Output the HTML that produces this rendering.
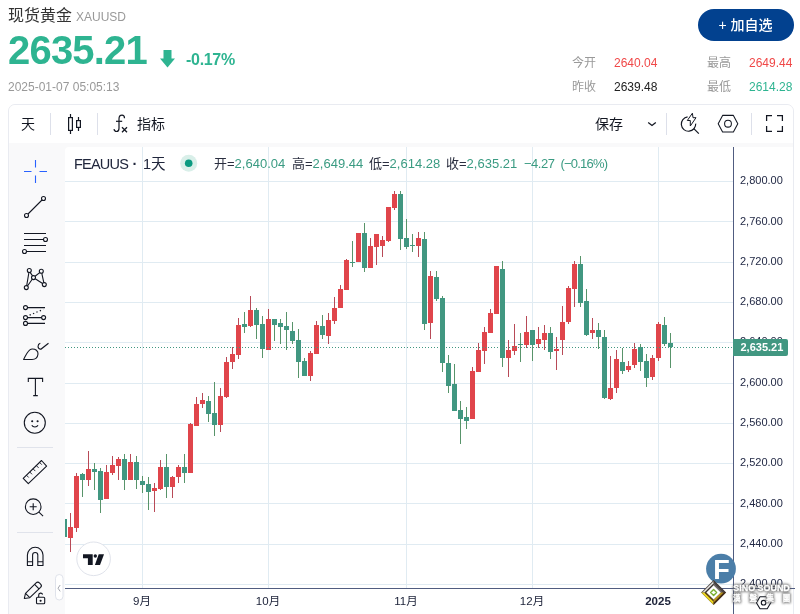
<!DOCTYPE html>
<html lang="zh-CN">
<head>
<meta charset="utf-8">
<title>现货黄金 XAUUSD</title>
<style>
html,body{margin:0;padding:0;}
body{width:800px;height:614px;overflow:hidden;background:#fff;position:relative;
  font-family:"Liberation Sans","Noto Sans CJK SC",sans-serif;color:#131722;}
.abs{position:absolute;white-space:nowrap;}
/* header */
#title{left:8px;top:4px;font-size:16px;line-height:24px;color:#333;}
#code{left:76px;top:9px;font-size:12px;line-height:16px;color:#999;}
#price{left:8px;top:27px;font-size:40px;line-height:46px;font-weight:bold;color:#2eb491;letter-spacing:-0.8px;}
#chg{left:186px;top:51px;font-size:16px;line-height:18px;font-weight:bold;color:#2eb491;letter-spacing:-0.3px;}
#date{left:8px;top:79px;font-size:12px;line-height:16px;color:#999;}
#addbtn{left:697.5px;top:9px;width:96px;font-weight:500;height:32px;border-radius:16px;background:#02418f;color:#fff;
  font-size:14px;line-height:32px;text-align:center;}
.st{font-size:12px;line-height:16px;}
.lab{color:#999;}
.red{color:#f04848;}
.grn{color:#2eb491;}
.blk{color:#222;}
/* widget */
#widget{left:8px;top:104px;width:784px;height:520px;border:1px solid #e9ebf1;border-radius:7px;background:#f9f9fa;}
#topbar{left:9px;top:105px;width:784px;height:38px;background:#fff;border-radius:6px 6px 0 0;}
#pane{left:65px;top:147px;width:728px;height:480px;background:#fff;border-radius:4px 0 0 0;}
.tb{font-size:14px;line-height:20px;color:#131722;}
.sep{width:1px;background:#dde0ea;}
.hsep{height:1px;background:#e0e3eb;left:17px;width:36px;}
.lt{top:153.5px;font-size:14.5px;line-height:20px;color:#20263c;}
.lg{top:155px;font-size:13px;line-height:18px;color:#2a2e3f;}
.lg b{font-weight:normal;color:#3a9b82;}
.pl{left:740px;font-size:11px;line-height:14px;color:#232a46;}
.tl{top:594px;font-size:11.5px;line-height:14px;color:#20263c;text-align:center;width:40px;}
#curlabel{left:733px;top:339px;width:55px;height:17px;background:#419781;border-radius:0 2px 2px 0;color:#fff;
  font-size:11px;font-weight:bold;line-height:17px;text-indent:7.5px;}
svg{position:absolute;left:0;top:0;overflow:visible;}
</style>
</head>
<body>
<!-- header -->
<div class="abs" id="title">现货黄金</div>
<div class="abs" id="code">XAUUSD</div>
<div class="abs" id="price">2635.21</div>
<svg width="800" height="100" viewBox="0 0 800 100"><path d="M163.5 50h8v8.5h3.5l-7.5 9-7.500-9h3.500z" fill="#2eb491"/></svg>
<div class="abs" id="chg">-0.17%</div>
<div class="abs" id="date">2025-01-07 05:05:13</div>
<div class="abs" id="addbtn">+ 加自选</div>
<div class="abs st lab" style="left:572px;top:55px;">今开</div>
<div class="abs st red" style="left:614px;top:55px;">2640.04</div>
<div class="abs st lab" style="left:707px;top:55px;">最高</div>
<div class="abs st red" style="left:749px;top:55px;">2649.44</div>
<div class="abs st lab" style="left:572px;top:79px;">昨收</div>
<div class="abs st blk" style="left:614px;top:79px;">2639.48</div>
<div class="abs st lab" style="left:707px;top:79px;">最低</div>
<div class="abs st grn" style="left:749px;top:79px;">2614.28</div>

<!-- widget frame -->
<div class="abs" id="widget"></div>
<div class="abs" id="topbar"></div>
<div class="abs" id="pane"></div>

<!-- top toolbar -->
<div class="abs tb" style="left:21px;top:114px;">天</div>
<div class="abs sep" style="left:50px;top:113px;height:22px;"></div>
<div class="abs sep" style="left:97px;top:113px;height:22px;"></div>
<div class="abs tb" style="left:137px;top:114px;">指标</div>
<div class="abs tb" style="left:595px;top:114px;">保存</div>
<div class="abs sep" style="left:666px;top:113px;height:22px;"></div>
<div class="abs sep" style="left:751px;top:113px;height:22px;"></div>

<!-- left toolbar separators -->
<div class="abs hsep" style="top:447px;"></div>
<div class="abs hsep" style="top:532px;"></div>

<!-- chart -->
<svg width="800" height="614" viewBox="0 0 800 614" shape-rendering="crispEdges">
<defs><clipPath id="paneclip"><rect x="65" y="147" width="668" height="441"/></clipPath></defs>
<line x1="65" x2="733" y1="584.5" y2="584.5" stroke="#e0ebf2"/>
<line x1="65" x2="733" y1="544.5" y2="544.5" stroke="#e0ebf2"/>
<line x1="65" x2="733" y1="503.5" y2="503.5" stroke="#e0ebf2"/>
<line x1="65" x2="733" y1="463.5" y2="463.5" stroke="#e0ebf2"/>
<line x1="65" x2="733" y1="423.5" y2="423.5" stroke="#e0ebf2"/>
<line x1="65" x2="733" y1="383.5" y2="383.5" stroke="#e0ebf2"/>
<line x1="65" x2="733" y1="342.5" y2="342.5" stroke="#e0ebf2"/>
<line x1="65" x2="733" y1="302.5" y2="302.5" stroke="#e0ebf2"/>
<line x1="65" x2="733" y1="262.5" y2="262.5" stroke="#e0ebf2"/>
<line x1="65" x2="733" y1="221.5" y2="221.5" stroke="#e0ebf2"/>
<line x1="65" x2="733" y1="181.5" y2="181.5" stroke="#e0ebf2"/>
<line x1="142.5" x2="142.5" y1="147" y2="588" stroke="#e0ebf2"/>
<line x1="268.5" x2="268.5" y1="147" y2="588" stroke="#e0ebf2"/>
<line x1="406.5" x2="406.5" y1="147" y2="588" stroke="#e0ebf2"/>
<line x1="532.5" x2="532.5" y1="147" y2="588" stroke="#e0ebf2"/>
<line x1="658.5" x2="658.5" y1="147" y2="588" stroke="#e0ebf2"/>
<g clip-path="url(#paneclip)">
<rect x="64" y="519" width="1" height="18" fill="#58946a"/>
<rect x="62" y="519" width="5" height="18" fill="#419781"/>
<rect x="70" y="513" width="1" height="39" fill="#b84a57"/>
<rect x="68" y="527" width="5" height="11" fill="#e0454b"/>
<rect x="76" y="473" width="1" height="59" fill="#b84a57"/>
<rect x="74" y="476" width="5" height="52" fill="#e0454b"/>
<rect x="82" y="473" width="1" height="24" fill="#58946a"/>
<rect x="80" y="474" width="5" height="6" fill="#419781"/>
<rect x="88" y="451" width="1" height="35" fill="#b84a57"/>
<rect x="86" y="469" width="5" height="11" fill="#e0454b"/>
<rect x="94" y="463" width="1" height="27" fill="#58946a"/>
<rect x="92" y="469" width="5" height="3" fill="#419781"/>
<rect x="100" y="468" width="1" height="45" fill="#58946a"/>
<rect x="98" y="471" width="5" height="29" fill="#419781"/>
<rect x="106" y="465" width="1" height="34" fill="#b84a57"/>
<rect x="104" y="472" width="5" height="27" fill="#e0454b"/>
<rect x="112" y="456" width="1" height="19" fill="#b84a57"/>
<rect x="110" y="465" width="5" height="8" fill="#e0454b"/>
<rect x="118" y="457" width="1" height="23" fill="#b84a57"/>
<rect x="116" y="459" width="5" height="7" fill="#e0454b"/>
<rect x="124" y="454" width="1" height="36" fill="#58946a"/>
<rect x="122" y="459" width="5" height="21" fill="#419781"/>
<rect x="130" y="454" width="1" height="26" fill="#b84a57"/>
<rect x="128" y="462" width="5" height="18" fill="#e0454b"/>
<rect x="136" y="456" width="1" height="33" fill="#58946a"/>
<rect x="134" y="462" width="5" height="18" fill="#419781"/>
<rect x="142" y="476" width="1" height="17" fill="#58946a"/>
<rect x="140" y="481" width="5" height="4" fill="#419781"/>
<rect x="148" y="477" width="1" height="33" fill="#58946a"/>
<rect x="146" y="484" width="5" height="8" fill="#419781"/>
<rect x="154" y="483" width="1" height="29" fill="#b84a57"/>
<rect x="152" y="488" width="5" height="3" fill="#e0454b"/>
<rect x="160" y="460" width="1" height="30" fill="#b84a57"/>
<rect x="158" y="467" width="5" height="22" fill="#e0454b"/>
<rect x="166" y="454" width="1" height="44" fill="#58946a"/>
<rect x="164" y="467" width="5" height="20" fill="#419781"/>
<rect x="172" y="476" width="1" height="22" fill="#b84a57"/>
<rect x="170" y="477" width="5" height="10" fill="#e0454b"/>
<rect x="178" y="465" width="1" height="18" fill="#b84a57"/>
<rect x="176" y="467" width="5" height="10" fill="#e0454b"/>
<rect x="184" y="454" width="1" height="29" fill="#58946a"/>
<rect x="182" y="467" width="5" height="6" fill="#419781"/>
<rect x="190" y="423" width="1" height="50" fill="#b84a57"/>
<rect x="188" y="424" width="5" height="49" fill="#e0454b"/>
<rect x="196" y="397" width="1" height="29" fill="#b84a57"/>
<rect x="194" y="404" width="5" height="22" fill="#e0454b"/>
<rect x="202" y="393" width="1" height="15" fill="#b84a57"/>
<rect x="200" y="400" width="5" height="4" fill="#e0454b"/>
<rect x="208" y="396" width="1" height="26" fill="#58946a"/>
<rect x="206" y="401" width="5" height="13" fill="#419781"/>
<rect x="214" y="382" width="1" height="54" fill="#58946a"/>
<rect x="212" y="413" width="5" height="12" fill="#419781"/>
<rect x="220" y="388" width="1" height="44" fill="#b84a57"/>
<rect x="218" y="396" width="5" height="29" fill="#e0454b"/>
<rect x="226" y="357" width="1" height="41" fill="#b84a57"/>
<rect x="224" y="362" width="5" height="35" fill="#e0454b"/>
<rect x="232" y="347" width="1" height="22" fill="#b84a57"/>
<rect x="230" y="354" width="5" height="8" fill="#e0454b"/>
<rect x="238" y="318" width="1" height="41" fill="#b84a57"/>
<rect x="236" y="325" width="5" height="30" fill="#e0454b"/>
<rect x="244" y="312" width="1" height="21" fill="#58946a"/>
<rect x="242" y="324" width="5" height="3" fill="#419781"/>
<rect x="250" y="296" width="1" height="31" fill="#b84a57"/>
<rect x="248" y="310" width="5" height="16" fill="#e0454b"/>
<rect x="256" y="308" width="1" height="31" fill="#58946a"/>
<rect x="254" y="310" width="5" height="15" fill="#419781"/>
<rect x="262" y="316" width="1" height="42" fill="#58946a"/>
<rect x="260" y="324" width="5" height="25" fill="#419781"/>
<rect x="268" y="309" width="1" height="41" fill="#b84a57"/>
<rect x="266" y="319" width="5" height="31" fill="#e0454b"/>
<rect x="274" y="319" width="1" height="22" fill="#58946a"/>
<rect x="272" y="319" width="5" height="6" fill="#419781"/>
<rect x="280" y="319" width="1" height="25" fill="#58946a"/>
<rect x="278" y="323" width="5" height="4" fill="#419781"/>
<rect x="286" y="312" width="1" height="38" fill="#58946a"/>
<rect x="284" y="326" width="5" height="4" fill="#419781"/>
<rect x="292" y="322" width="1" height="22" fill="#58946a"/>
<rect x="290" y="331" width="5" height="10" fill="#419781"/>
<rect x="298" y="329" width="1" height="49" fill="#58946a"/>
<rect x="296" y="340" width="5" height="22" fill="#419781"/>
<rect x="304" y="358" width="1" height="18" fill="#58946a"/>
<rect x="302" y="361" width="5" height="15" fill="#419781"/>
<rect x="310" y="351" width="1" height="30" fill="#b84a57"/>
<rect x="308" y="353" width="5" height="23" fill="#e0454b"/>
<rect x="316" y="321" width="1" height="33" fill="#b84a57"/>
<rect x="314" y="325" width="5" height="29" fill="#e0454b"/>
<rect x="322" y="315" width="1" height="24" fill="#58946a"/>
<rect x="320" y="326" width="5" height="9" fill="#419781"/>
<rect x="328" y="313" width="1" height="31" fill="#b84a57"/>
<rect x="326" y="320" width="5" height="16" fill="#e0454b"/>
<rect x="334" y="297" width="1" height="27" fill="#b84a57"/>
<rect x="332" y="308" width="5" height="13" fill="#e0454b"/>
<rect x="340" y="285" width="1" height="23" fill="#b84a57"/>
<rect x="338" y="289" width="5" height="19" fill="#e0454b"/>
<rect x="346" y="259" width="1" height="31" fill="#b84a57"/>
<rect x="344" y="260" width="5" height="30" fill="#e0454b"/>
<rect x="352" y="241" width="1" height="26" fill="#58946a"/>
<rect x="350" y="262" width="5" height="1" fill="#419781"/>
<rect x="358" y="233" width="1" height="29" fill="#b84a57"/>
<rect x="356" y="233" width="5" height="29" fill="#e0454b"/>
<rect x="364" y="223" width="1" height="49" fill="#58946a"/>
<rect x="362" y="233" width="5" height="35" fill="#419781"/>
<rect x="370" y="238" width="1" height="30" fill="#b84a57"/>
<rect x="368" y="246" width="5" height="22" fill="#e0454b"/>
<rect x="376" y="234" width="1" height="31" fill="#b84a57"/>
<rect x="374" y="234" width="5" height="13" fill="#e0454b"/>
<rect x="382" y="236" width="1" height="21" fill="#b84a57"/>
<rect x="380" y="240" width="5" height="6" fill="#e0454b"/>
<rect x="388" y="207" width="1" height="35" fill="#b84a57"/>
<rect x="386" y="207" width="5" height="34" fill="#e0454b"/>
<rect x="394" y="191" width="1" height="19" fill="#b84a57"/>
<rect x="392" y="194" width="5" height="14" fill="#e0454b"/>
<rect x="400" y="191" width="1" height="59" fill="#58946a"/>
<rect x="398" y="194" width="5" height="45" fill="#419781"/>
<rect x="406" y="219" width="1" height="30" fill="#58946a"/>
<rect x="404" y="238" width="5" height="9" fill="#419781"/>
<rect x="412" y="234" width="1" height="18" fill="#58946a"/>
<rect x="410" y="245" width="5" height="1" fill="#419781"/>
<rect x="418" y="232" width="1" height="25" fill="#b84a57"/>
<rect x="416" y="238" width="5" height="8" fill="#e0454b"/>
<rect x="424" y="232" width="1" height="98" fill="#58946a"/>
<rect x="422" y="239" width="5" height="85" fill="#419781"/>
<rect x="430" y="271" width="1" height="68" fill="#b84a57"/>
<rect x="428" y="276" width="5" height="47" fill="#e0454b"/>
<rect x="436" y="271" width="1" height="30" fill="#58946a"/>
<rect x="434" y="277" width="5" height="22" fill="#419781"/>
<rect x="442" y="296" width="1" height="76" fill="#58946a"/>
<rect x="440" y="298" width="5" height="65" fill="#419781"/>
<rect x="448" y="355" width="1" height="38" fill="#58946a"/>
<rect x="446" y="363" width="5" height="23" fill="#419781"/>
<rect x="454" y="364" width="1" height="47" fill="#58946a"/>
<rect x="452" y="384" width="5" height="27" fill="#419781"/>
<rect x="460" y="401" width="1" height="43" fill="#58946a"/>
<rect x="458" y="410" width="5" height="9" fill="#419781"/>
<rect x="466" y="407" width="1" height="22" fill="#58946a"/>
<rect x="464" y="417" width="5" height="4" fill="#419781"/>
<rect x="472" y="367" width="1" height="52" fill="#b84a57"/>
<rect x="470" y="371" width="5" height="48" fill="#e0454b"/>
<rect x="478" y="343" width="1" height="29" fill="#b84a57"/>
<rect x="476" y="350" width="5" height="22" fill="#e0454b"/>
<rect x="484" y="327" width="1" height="37" fill="#b84a57"/>
<rect x="482" y="332" width="5" height="19" fill="#e0454b"/>
<rect x="490" y="309" width="1" height="24" fill="#b84a57"/>
<rect x="488" y="313" width="5" height="20" fill="#e0454b"/>
<rect x="496" y="266" width="1" height="48" fill="#b84a57"/>
<rect x="494" y="266" width="5" height="48" fill="#e0454b"/>
<rect x="502" y="261" width="1" height="106" fill="#58946a"/>
<rect x="500" y="269" width="5" height="89" fill="#419781"/>
<rect x="508" y="340" width="1" height="37" fill="#b84a57"/>
<rect x="506" y="350" width="5" height="8" fill="#e0454b"/>
<rect x="514" y="324" width="1" height="31" fill="#b84a57"/>
<rect x="512" y="346" width="5" height="5" fill="#e0454b"/>
<rect x="520" y="333" width="1" height="29" fill="#58946a"/>
<rect x="518" y="344" width="5" height="1" fill="#419781"/>
<rect x="526" y="316" width="1" height="32" fill="#b84a57"/>
<rect x="524" y="332" width="5" height="13" fill="#e0454b"/>
<rect x="532" y="330" width="1" height="31" fill="#58946a"/>
<rect x="530" y="330" width="5" height="15" fill="#419781"/>
<rect x="538" y="327" width="1" height="21" fill="#b84a57"/>
<rect x="536" y="339" width="5" height="5" fill="#e0454b"/>
<rect x="544" y="325" width="1" height="25" fill="#b84a57"/>
<rect x="542" y="333" width="5" height="7" fill="#e0454b"/>
<rect x="550" y="327" width="1" height="32" fill="#58946a"/>
<rect x="548" y="333" width="5" height="19" fill="#419781"/>
<rect x="556" y="337" width="1" height="33" fill="#b84a57"/>
<rect x="554" y="349" width="5" height="2" fill="#e0454b"/>
<rect x="562" y="306" width="1" height="49" fill="#b84a57"/>
<rect x="560" y="322" width="5" height="18" fill="#e0454b"/>
<rect x="568" y="286" width="1" height="38" fill="#b84a57"/>
<rect x="566" y="288" width="5" height="34" fill="#e0454b"/>
<rect x="574" y="261" width="1" height="46" fill="#b84a57"/>
<rect x="572" y="264" width="5" height="25" fill="#e0454b"/>
<rect x="580" y="256" width="1" height="51" fill="#58946a"/>
<rect x="578" y="264" width="5" height="39" fill="#419781"/>
<rect x="586" y="289" width="1" height="47" fill="#58946a"/>
<rect x="584" y="301" width="5" height="34" fill="#419781"/>
<rect x="592" y="318" width="1" height="21" fill="#b84a57"/>
<rect x="590" y="330" width="5" height="3" fill="#e0454b"/>
<rect x="598" y="323" width="1" height="26" fill="#58946a"/>
<rect x="596" y="330" width="5" height="7" fill="#419781"/>
<rect x="604" y="330" width="1" height="69" fill="#58946a"/>
<rect x="602" y="337" width="5" height="61" fill="#419781"/>
<rect x="610" y="356" width="1" height="44" fill="#b84a57"/>
<rect x="608" y="388" width="5" height="11" fill="#e0454b"/>
<rect x="616" y="350" width="1" height="43" fill="#b84a57"/>
<rect x="614" y="359" width="5" height="29" fill="#e0454b"/>
<rect x="622" y="348" width="1" height="26" fill="#58946a"/>
<rect x="620" y="362" width="5" height="9" fill="#419781"/>
<rect x="628" y="361" width="1" height="11" fill="#b84a57"/>
<rect x="626" y="366" width="5" height="4" fill="#e0454b"/>
<rect x="634" y="343" width="1" height="25" fill="#b84a57"/>
<rect x="632" y="349" width="5" height="16" fill="#e0454b"/>
<rect x="640" y="344" width="1" height="27" fill="#58946a"/>
<rect x="638" y="347" width="5" height="15" fill="#419781"/>
<rect x="646" y="354" width="1" height="33" fill="#58946a"/>
<rect x="644" y="361" width="5" height="17" fill="#419781"/>
<rect x="652" y="355" width="1" height="25" fill="#b84a57"/>
<rect x="650" y="358" width="5" height="19" fill="#e0454b"/>
<rect x="658" y="322" width="1" height="39" fill="#b84a57"/>
<rect x="656" y="324" width="5" height="34" fill="#e0454b"/>
<rect x="664" y="317" width="1" height="29" fill="#58946a"/>
<rect x="662" y="325" width="5" height="19" fill="#419781"/>
<rect x="670" y="333" width="1" height="35" fill="#58946a"/>
<rect x="668" y="343" width="5" height="4" fill="#419781"/>
</g>

<line x1="65" x2="733" y1="347.5" y2="347.5" stroke="#419781" stroke-dasharray="1 2"/>
<rect x="733" y="147" width="1" height="470" fill="#505c80"/>
<rect x="65" y="588" width="730" height="1" fill="#505c80"/>
</svg>

<!-- legend -->
<svg width="800" height="200" viewBox="0 0 800 200"><circle cx="188.700" cy="163.200" r="8.500" fill="#d9efe9"/><circle cx="188.700" cy="163.200" r="3.800" fill="#0a9a80"/></svg>
<div class="abs lt" style="left:74px;letter-spacing:-0.8px;">FEAUUS</div>
<div class="abs lt" style="left:132.5px;font-weight:bold;">·</div>
<div class="abs lt" style="left:143px;">1天</div>
<div class="abs lg" style="left:214px;">开=<b>2,640.04</b></div>
<div class="abs lg" style="left:292px;">高=<b>2,649.44</b></div>
<div class="abs lg" style="left:369px;">低=<b>2,614.28</b></div>
<div class="abs lg" style="left:446px;">收=<b>2,635.21</b></div>
<div class="abs lg" style="left:524px;letter-spacing:-0.5px;"><b>−4.27</b></div>
<div class="abs lg" id="lgpct" style="left:560.5px;letter-spacing:-0.8px;"><b>(−0.16%)</b></div>

<!-- price axis labels -->
<div class="abs pl" style="top:576.2px;">2,400.00</div>
<div class="abs pl" style="top:535.9px;">2,440.00</div>
<div class="abs pl" style="top:495.6px;">2,480.00</div>
<div class="abs pl" style="top:455.3px;">2,520.00</div>
<div class="abs pl" style="top:415.0px;">2,560.00</div>
<div class="abs pl" style="top:374.7px;">2,600.00</div>
<div class="abs pl" style="top:334.4px;">2,640.00</div>
<div class="abs pl" style="top:294.1px;">2,680.00</div>
<div class="abs pl" style="top:253.8px;">2,720.00</div>
<div class="abs pl" style="top:213.5px;">2,760.00</div>
<div class="abs pl" style="top:173.2px;">2,800.00</div>
<div class="abs" id="curlabel">2,635.21</div>

<!-- time axis labels -->
<div class="abs tl" style="left:122px;">9月</div>
<div class="abs tl" style="left:248px;">10月</div>
<div class="abs tl" style="left:386px;">11月</div>
<div class="abs tl" style="left:512px;">12月</div>
<div class="abs tl" style="left:638px;font-weight:bold;">2025</div>

<!-- icons -->
<svg width="800" height="614" viewBox="0 0 800 614" fill="none" stroke="#131722" stroke-width="1">
<!-- top bar: candle icon -->
<g stroke="#131722" stroke-width="1.2" fill="none">
<rect x="68.6" y="117.6" width="3.8" height="12.8"/>
<path d="M70.5 114v3.500M70.5 130.500v3.500"/>
<rect x="76.600" y="120.600" width="3.800" height="6.800"/>
<path d="M78.500 117v3.500M78.500 127.500v3.500"/>
<!-- fx -->
<path d="M124.500 118.200C124.500 116.200 123.600 115.200 122 115.200C120 115.200 119 116.600 119 119V128.200C119 130.400 118 131.500 116.500 131.500C115 131.500 114.200 130.600 114 129.200"/>
<path d="M116 121.300h6.200"/>
<path d="M122 127.200l5 5M127 127.200l-5 5" stroke-width="1.300"/>
<!-- chevron -->
<path d="M648.200 122.500l3.800 3 3.800-3" stroke-width="1.300"/>
<!-- quick search -->
<path d="M687.600 116.900A7.200 7.200 0 1 0 695.700 123.600"/>
<path d="M693.800 128.700l5 5"/>
<path d="M692.400 113.200L687.300 120.500H690.300V126L696 117.700H693z" fill="#fff" stroke-width="1" stroke-linejoin="round"/>
<!-- hex settings -->
<path d="M718.200 123.700l4.400-8.300h10.800l4.400 8.300-4.400 8.300h-10.800z" stroke-linejoin="round" stroke-width="1.050"/>
<circle cx="728" cy="123.700" r="3.400" stroke-width="1.050"/>
<!-- fullscreen -->
<path d="M766.600 121v-5.400h5.400M777 115.600h5.400v5.400M782.400 126v5.400h-5.400M772 131.400h-5.400v-5.400" stroke-width="1.250"/>
</g>

<!-- left toolbar -->
<!-- cross (blue) -->
<path d="M35.500 160v7.500M35.500 175.500v7.500M24 171.500h7.500M39.500 171.500h7.500" stroke="#2962ff" stroke-width="1.100"/>
<g stroke="#131722" stroke-width="1.100" fill="none">
<!-- trend line -->
<circle cx="43.500" cy="198.500" r="2"/><circle cx="26.500" cy="215.500" r="2"/>
<path d="M28 214l14-14"/>
<!-- parallel lines -->
<path d="M24 233.500h22M24 239.500h19.400M24 245.500h22M26.500 251.500h19.500"/>
<circle cx="45.500" cy="239.500" r="2"/><circle cx="24.500" cy="251.500" r="2"/>
<!-- xabcd pattern -->
<circle cx="29.300" cy="270.500" r="2"/><circle cx="41.300" cy="271.300" r="2"/><circle cx="33.500" cy="277.600" r="2"/><circle cx="44.300" cy="284.600" r="2"/><circle cx="26.300" cy="287.600" r="2"/>
<path d="M26.700 285.600l2.200-13.100M30.100 272.400l2.500 3.400M35.100 276.300l4.600-3.700M41.800 273.300l2 9.300M42.600 283.500l-7.400-4.800M32.200 279.200l-4.700 6.800"/>
<!-- forecast -->
<circle cx="25.500" cy="307.600" r="2"/><circle cx="25.500" cy="317.600" r="2"/><circle cx="43.600" cy="317.600" r="2"/><circle cx="25.500" cy="323.400" r="2"/>
<path d="M27.500 307.600h17.500M27.500 317.600h14.100M27.500 323.400h17.500"/>
<path d="M29.600 315.200l13.700-5.900" stroke-dasharray="1.300 2.400" stroke-width="1.300"/>
<!-- brush -->
<path d="M23.600 359.500C26 355 28 349.300 32 349C35.500 348.800 38.300 351 38 354C37.700 357 35.500 359.500 32 359.500z" stroke-linejoin="round"/>
<path d="M40.300 343.300C37.400 344.300 37 348.600 40.800 349.300L48.500 343.300"/>
<!-- text -->
<path d="M28.300 382v-3.600h14.300v3.600M35.400 378.400v17.200M33.200 395.600h4.600"/>
<!-- smile -->
<circle cx="34.800" cy="422.800" r="10.500"/>
<circle cx="32.200" cy="421.200" r="0.500" fill="#131722"/><circle cx="37.600" cy="421.200" r="0.500" fill="#131722"/>
<path d="M31.800 425.200C33 427.600 36.800 427.600 38 425.200"/>
<!-- ruler -->
<path d="M23.200 478.400l18.300-17.900 5.100 5.600-18.300 17.600z" stroke-linejoin="round"/>
<path d="M26.500 475.200l2.200 2.300M29.800 472l2.200 2.300M33.100 468.800l2.200 2.300M36.400 465.600l2.200 2.300M39.600 462.400l2.200 2.300" stroke-width="0.900"/>
<!-- zoom in -->
<circle cx="33.200" cy="506.700" r="7.800"/>
<path d="M29.700 506.700h7M33.200 503.200v7M38.900 512.200l4.200 4"/>
<!-- magnet -->
<path d="M27.400 565.500v-10.400a7.800 7.800 0 0 1 15.600 0v10.400h-5.200v-10.400a2.600 2.600 0 0 0-5.200 0v10.400z" stroke-linejoin="round"/>
<path d="M27.400 561.800h5.200M37.800 561.800h5.200"/>
<!-- pencil + lock -->
<path d="M24.300 598.500l1.200-5.200 10.600-10.400c1-1 2.400-1 3.300 0l1.200 1.200c1 1 1 2.300 0 3.300l-10.800 10.300z" stroke-linejoin="round"/>
<path d="M25.500 593.300l4.300 4.400M34.600 584.400l4.400 4.400"/>
<rect x="36.500" y="597.300" width="8.200" height="6.400" rx="1" fill="#f9f9fa"/>
<path d="M38.700 597.300v-2.200a2 2 0 0 1 3.900-0.600"/>
<circle cx="40.600" cy="600.800" r="0.500" fill="#131722"/>
</g>
<!-- collapse handle -->
<rect x="55.500" y="574.500" width="7.500" height="25.500" rx="3.750" fill="#fff" stroke="#e0e3eb"/>
<path d="M60.200 585l-2.200 3.200 2.200 3.200" stroke="#a3a6af" stroke-width="1"/>
<!-- TV logo -->
<circle cx="93.600" cy="558.800" r="16.800" fill="#fff" stroke="#e0e3eb"/>
<path d="M83 554.300h9.700v10.600h-4.800v-6.700h-4.900z" fill="#131722" stroke="none"/>
<circle cx="95.300" cy="556" r="1.700" fill="#131722" stroke="none"/>
<path d="M98.700 554.300h5.300l-4 10.600h-5.100z" fill="#131722" stroke="none"/>
<!-- price axis settings hex -->
<g stroke="#131722" stroke-width="1.100" fill="none">
<path d="M756.400 602.700l3.600-6h7.200l3.600 6-3.600 6h-7.200z" stroke-linejoin="round"/>
<circle cx="763.600" cy="602.700" r="2.300"/>
</g>

</svg>

<!-- watermark -->
<svg width="800" height="614" viewBox="0 0 800 614">
<defs>
<linearGradient id="wmTL" x1="0" y1="1" x2="1" y2="0"><stop offset="0" stop-color="#f2f2f2"/><stop offset="1" stop-color="#6b5a4a"/></linearGradient>
<linearGradient id="wmBL" x1="0" y1="0" x2="1" y2="1"><stop offset="0" stop-color="#f0d020"/><stop offset="1" stop-color="#b89a18"/></linearGradient>
</defs>
<circle cx="721" cy="568.700" r="14.900" fill="#4b7ea8"/>
<text x="721.400" y="578.500" font-family="Liberation Sans, sans-serif" font-weight="bold" font-size="27" fill="#fff" text-anchor="middle">F</text>
<!-- diamond logo -->
<path d="M713.6 579.9L726.1 592.4L713.6 604.9L701.1 592.4z" fill="#3c322c" />
<path d="M713.6 580.7L701.9 592.4L703.0 592.4L713.6 581.8z" fill="#bdbdbd"/>
<path d="M713.6 581.8L703.0 592.4L704.6 592.4L713.6 583.4z" fill="#f6f6f6"/>
<path d="M713.6 583.4L704.6 592.4L706.4 592.4L713.6 585.2z" fill="#3a3431"/>
<path d="M713.6 580.7L725.3 592.4L723.0 592.4L713.6 583.0z" fill="#4a4546"/>
<path d="M713.6 583.0L723.0 592.4L720.8 592.4L713.6 585.2z" fill="#6e6868"/>
<path d="M713.6 604.7L701.3 592.4L704.4 592.4L713.6 601.6z" fill="#ead320"/>
<path d="M713.6 601.6L704.4 592.4L706.4 592.4L713.6 599.6z" fill="#5e4312"/>
<path d="M713.6 604.7L725.9 592.4L723.6 592.4L713.6 602.4z" fill="#4a2f16"/>
<path d="M713.6 602.4L723.6 592.4L720.8 592.4L713.6 599.6z" fill="#b8931e"/>
<path d="M713.6 585.2L720.8 592.4L713.6 599.6L706.4 592.4z" fill="#ffffff" />
<path d="M713.6 589.4L716.6 592.4L713.6 595.4L710.6 592.4z" fill="#ffffff" stroke="#7ab030" stroke-width="1.400" stroke-linejoin="round"/>
<filter id="wmblur" x="-20%" y="-50%" width="140%" height="200%"><feGaussianBlur stdDeviation="0.9"/></filter>
<g font-family="Liberation Sans, Noto Sans CJK TC, sans-serif" font-weight="bold">
<g filter="url(#wmblur)" fill="#555" stroke="#555" stroke-width="2.400" stroke-linejoin="round" opacity="0.700">
<text x="733.300" y="590.600" font-size="9" textLength="56.500" lengthAdjust="spacingAndGlyphs">SINO SOUND</text>
<text x="733" y="600.600" font-size="7.500" letter-spacing="9.100">漢聲集團</text>
</g>
<g fill="#fff" stroke="#fff" stroke-width="0.300">
<text x="733.300" y="590.600" font-size="9" textLength="56.500" lengthAdjust="spacingAndGlyphs">SINO SOUND</text>
<text x="733" y="600.600" font-size="7.500" letter-spacing="9.100">漢聲集團</text>
</g>
</g>
</svg>

</body>
</html>
